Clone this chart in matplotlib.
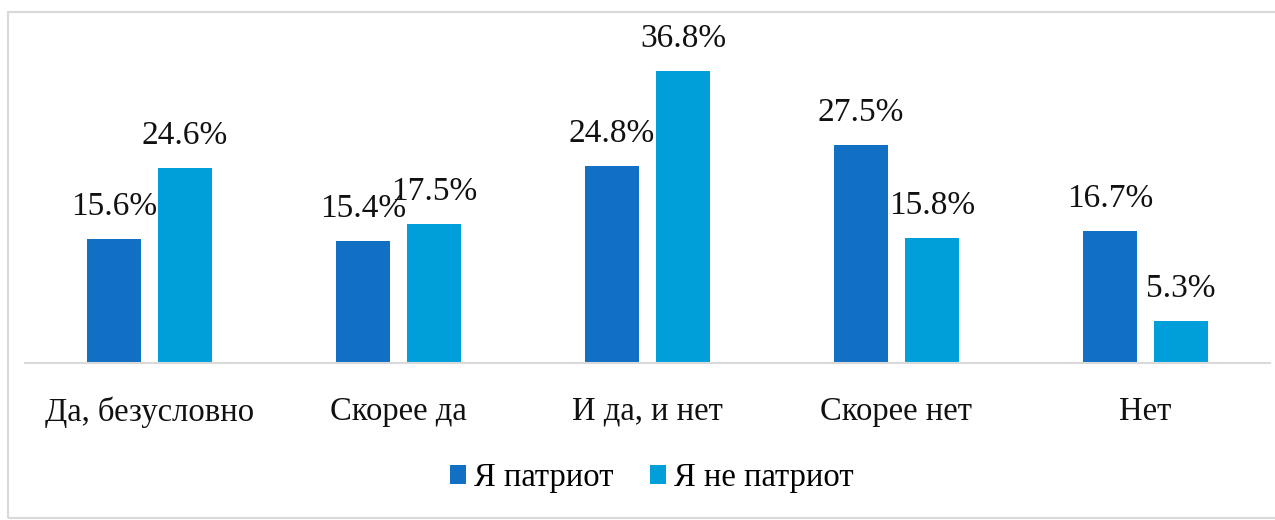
import matplotlib.pyplot as plt
from matplotlib.patches import Rectangle
import numpy as np

categories = ["Да, безусловно", "Скорее да", "И да, и нет", "Скорее нет", "Нет"]
patriot = [15.6, 15.4, 24.8, 27.5, 16.7]
not_patriot = [24.6, 17.5, 36.8, 15.8, 5.3]
series_names = ["Я патриот", "Я не патриот"]

plt.rcParams['font.family'] = ['Liberation Serif', 'DejaVu Serif']

fig = plt.figure(figsize=(12.75, 5.2), dpi=100)
ax = fig.add_axes([25 / 1275, 1 - 363 / 520, 1245 / 1275, 317 / 520])

x = np.arange(len(categories))
width = 0.22
offset = 0.143

bars1 = ax.bar(x - offset, patriot, width, color="#116fc4", label=series_names[0])
bars2 = ax.bar(x + offset, not_patriot, width, color="#009fd9", label=series_names[1])

# подписи над столбцами
for bars, vals in [(bars1, patriot), (bars2, not_patriot)]:
    for b, v in zip(bars, vals):
        ax.annotate(f"{v}%", (b.get_x() + b.get_width() / 2, v),
                    xytext=(0, 17), textcoords="offset pixels",
                    ha="center", va="bottom", fontsize=24, color="#111111")

ax.set_xlim(-0.5, len(categories) - 0.5)
ax.set_ylim(0, 40)
ax.set_xticks(x)
ax.set_xticklabels(categories, fontsize=23.5, color="#111111")
ax.tick_params(axis="x", length=0, pad=24)
ax.set_yticks([])
for s in ["top", "right", "left"]:
    ax.spines[s].set_visible(False)
ax.spines["bottom"].set_color("#d9d9d9")
ax.spines["bottom"].set_linewidth(1.5)

fig.legend(loc="center", bbox_to_anchor=(652 / 1275, 1 - 478 / 520), ncol=2,
           frameon=False, fontsize=23.5, handlelength=0.5, handleheight=0.5,
           handletextpad=0.25, columnspacing=1.1)

# рамка вокруг рисунка
fig.patches.append(Rectangle((8 / 1275, 2 / 520), 1.05, 506 / 520,
                             transform=fig.transFigure, fill=False,
                             edgecolor="#d9d9d9", linewidth=1.5, clip_on=False))

fig.savefig("out.png", dpi=100)
